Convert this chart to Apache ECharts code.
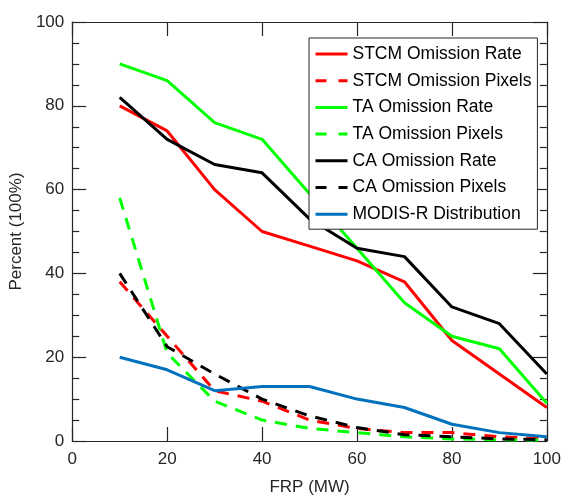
<!DOCTYPE html>
<html>
<head>
<meta charset="utf-8">
<script src="https://cdn.jsdelivr.net/npm/echarts@6/dist/echarts.min.js"></script>
<style>
html,body{margin:0;padding:0;background:#fff;}
#chart{width:564px;height:501px;}
</style>
</head>
<body>
<div id="chart"></div>
<script>
const frp = [10, 20, 30, 40, 50, 60, 70, 80, 90, 100];
const stcmRate   = [80, 74, 60, 50, 46.5, 43, 38, 24, 16, 8];
const stcmPixels = [38, 25, 12, 9.5, 5, 3, 2, 2, 1, 0.5];
const taRate     = [90, 86, 76, 72, 59, 46, 33, 25, 22, 9];
const taPixels   = [58, 21, 9.5, 5, 3, 2, 1, 0.5, 0.3, 0.2];
const caRate     = [82, 72, 66, 64, 53, 46, 44, 32, 28, 16];
const caPixels   = [40, 22.5, 16, 10, 6, 3.2, 1.5, 1, 0.5, 0.3];
const modisDist  = [20, 17, 12, 13, 13, 10, 8, 4, 2, 1];
const xTicks = [0, 20, 40, 60, 80, 100];
const yTicks = [0, 20, 40, 60, 80, 100];

const seriesDefs = [
  {name: 'STCM Omission Rate', data: stcmRate, color: '#FF0000', dashed: false},
  {name: 'STCM Omission Pixels', data: stcmPixels, color: '#FF0000', dashed: true},
  {name: 'TA Omission Rate', data: taRate, color: '#00FF00', dashed: false},
  {name: 'TA Omission Pixels', data: taPixels, color: '#00FF00', dashed: true},
  {name: 'CA Omission Rate', data: caRate, color: '#000000', dashed: false},
  {name: 'CA Omission Pixels', data: caPixels, color: '#000000', dashed: true},
  {name: 'MODIS-R Distribution', data: modisDist, color: '#0072BD', dashed: false}
];

const font = '"Liberation Sans", Arial, Helvetica, sans-serif';
const axisColor = '#262626';

const chart = echarts.init(document.getElementById('chart'), null, {renderer: 'canvas'});

const baseX = {
  type: 'value', min: xTicks[0], max: xTicks[xTicks.length - 1], interval: xTicks[1] - xTicks[0],
  axisLine: {show: true, onZero: false, lineStyle: {color: axisColor, width: 1.2}},
  axisTick: {show: true, inside: true, length: 14, lineStyle: {color: axisColor, width: 1.2}},
  splitLine: {show: false}
};
const baseY = {
  type: 'value', min: yTicks[0], max: yTicks[yTicks.length - 1], interval: yTicks[1] - yTicks[0],
  axisLine: {show: true, onZero: false, lineStyle: {color: axisColor, width: 1.2}},
  axisTick: {show: true, inside: true, length: 14, lineStyle: {color: axisColor, width: 1.2}},
  minorTick: {show: true, splitNumber: 4, length: 7, lineStyle: {color: axisColor, width: 1.2}},
  splitLine: {show: false}, minorSplitLine: {show: false}
};

chart.setOption({
  animation: false,
  backgroundColor: '#ffffff',
  grid: {left: 71.5, right: 14, top: 22, bottom: 57, containLabel: false},
  xAxis: [
    Object.assign({}, baseX, {
      position: 'bottom',
      name: 'FRP (MW)', nameLocation: 'middle', nameGap: 38,
      nameTextStyle: {fontFamily: font, fontSize: 17, color: axisColor},
      axisLabel: {show: true, margin: 10, fontFamily: font, fontSize: 17, color: axisColor}
    }),
    Object.assign({}, baseX, {position: 'top', axisLabel: {show: false}})
  ],
  yAxis: [
    Object.assign({}, baseY, {
      position: 'left',
      name: 'Percent (100%)', nameLocation: 'middle', nameGap: 36,
      nameTextStyle: {fontFamily: font, fontSize: 17, color: axisColor},
      axisLabel: {show: true, margin: 8, fontFamily: font, fontSize: 17, color: axisColor}
    }),
    Object.assign({}, baseY, {position: 'right', axisLabel: {show: false}})
  ],
  legend: {
    left: 309, top: 38, orient: 'vertical',
    backgroundColor: '#ffffff', borderColor: axisColor, borderWidth: 1,
    padding: [7, 6, 6, 5],
    itemWidth: 32, itemHeight: 14, itemGap: 8.7, itemTextGap: 5,
    itemStyle: {opacity: 0},
    textStyle: {fontFamily: font, fontSize: 17.5, color: '#000', lineHeight: 18},
    data: seriesDefs.map(s => ({
      name: s.name,
      itemStyle: {opacity: 0},
      lineStyle: {color: s.color, width: 3, type: s.dashed ? [11, 12] : 'solid'}
    }))
  },
  series: seriesDefs.map(s => ({
    name: s.name, type: 'line',
    xAxisIndex: 0, yAxisIndex: 0,
    data: frp.map((x, i) => [x, s.data[i]]),
    symbol: 'none', showSymbol: false,
    itemStyle: {color: s.color},
    lineStyle: {color: s.color, width: 3, type: s.dashed ? [12, 9] : 'solid'},
    emphasis: {disabled: true}
  }))
});
</script>
</body>
</html>
